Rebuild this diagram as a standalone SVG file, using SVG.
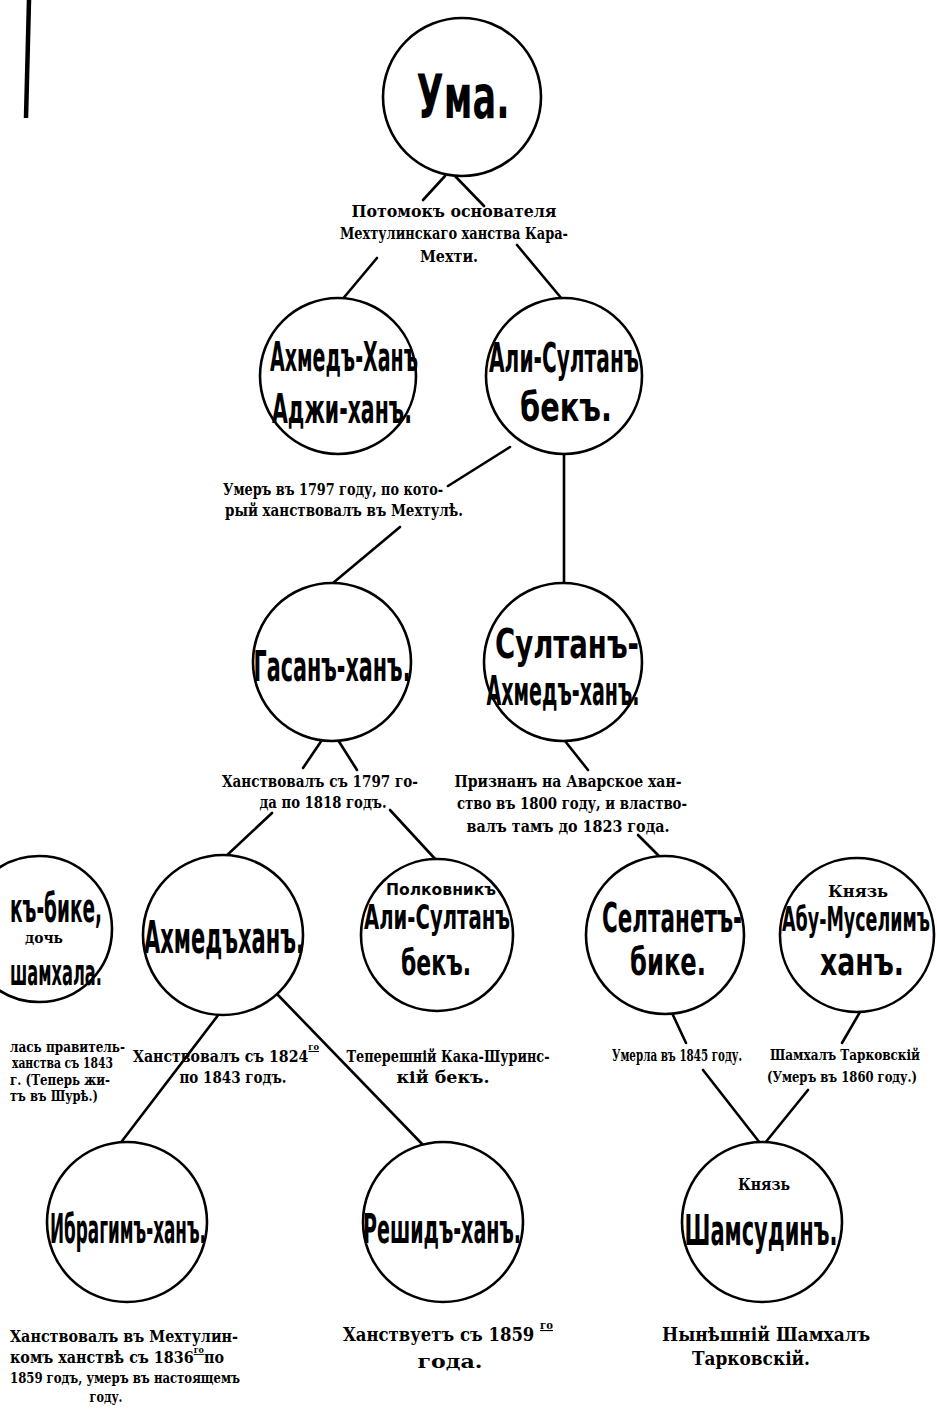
<svg xmlns="http://www.w3.org/2000/svg" width="937" height="1413" viewBox="0 0 937 1413">
<style>
circle{fill:#fff;stroke:#000;stroke-width:2.6}
.c line,line.c{stroke:#000;stroke-width:2.6;stroke-linecap:round}
text{fill:#000;font-family:"DejaVu Sans","Liberation Sans",sans-serif;font-weight:bold}
.b{text-anchor:middle}
.s{text-anchor:start}
.l{font-family:"DejaVu Serif","Liberation Serif",serif;font-weight:bold}
.u{text-decoration:underline}
</style>
<rect width="937" height="1413" fill="#fff"/>
<line x1="29" y1="0" x2="26" y2="118" stroke="#000" stroke-width="4.5"/>

<g id="connectors" class="c">
<line x1="445" y1="176" x2="423" y2="200"/>
<line x1="455" y1="176" x2="484" y2="206"/>
<line x1="377" y1="258" x2="341" y2="301"/>
<line x1="517" y1="245" x2="562" y2="299"/>
<line x1="510" y1="447" x2="448" y2="486"/>
<line x1="400" y1="527" x2="333" y2="583"/>
<line x1="564" y1="455" x2="564" y2="583"/>
<line x1="322" y1="740" x2="303" y2="768"/>
<line x1="338" y1="740" x2="357" y2="770"/>
<line x1="272" y1="813" x2="224" y2="858"/>
<line x1="390" y1="810" x2="437" y2="861"/>
<line x1="565" y1="741" x2="588" y2="770"/>
<line x1="638" y1="835" x2="662" y2="859"/>
<line x1="219" y1="1014" x2="119" y2="1145"/>
<line x1="277" y1="994" x2="425" y2="1147"/>
<line x1="672" y1="1013" x2="686" y2="1043"/>
<line x1="703" y1="1070" x2="760" y2="1143"/>
<line x1="860" y1="1012" x2="842" y2="1043"/>
<line x1="808" y1="1090" x2="765" y2="1143"/>
</g>

<g id="uma">
<circle cx="462" cy="97" r="79"/>
<text class="b" x="463" y="118" font-size="60" textLength="93" lengthAdjust="spacingAndGlyphs">Ума.</text>
</g>

<g id="lbl-uma">
<text class="l b" x="454" y="217" font-size="17" textLength="205" lengthAdjust="spacingAndGlyphs">Потомокъ основателя</text>
<text class="l b" x="454" y="239" font-size="17" textLength="228" lengthAdjust="spacingAndGlyphs">Мехтулинскаго ханства Кара-</text>
<text class="l b" x="449" y="262" font-size="17" textLength="58" lengthAdjust="spacingAndGlyphs">Мехти.</text>
</g>

<g id="ahmed-adji">
<circle cx="338" cy="376" r="78"/>
<text class="b" x="344" y="371" font-size="40" textLength="148" lengthAdjust="spacingAndGlyphs">Ахмедъ-Ханъ</text>
<text class="b" x="342" y="423" font-size="40" textLength="140" lengthAdjust="spacingAndGlyphs">Аджи-ханъ.</text>
</g>

<g id="ali-sultan-1">
<circle cx="564" cy="376" r="78"/>
<text class="b" x="564" y="372" font-size="40" textLength="150" lengthAdjust="spacingAndGlyphs">Али-Султанъ</text>
<text class="b" x="566" y="421" font-size="40" textLength="92" lengthAdjust="spacingAndGlyphs">бекъ.</text>
</g>

<g id="lbl-ali">
<text class="l b" x="333" y="495" font-size="17" textLength="220" lengthAdjust="spacingAndGlyphs">Умеръ въ 1797 году, по кото-</text>
<text class="l b" x="344" y="516" font-size="17" textLength="238" lengthAdjust="spacingAndGlyphs">рый ханствовалъ въ Мехтулѣ.</text>
</g>

<g id="gasan">
<circle cx="332" cy="662" r="79"/>
<text class="b" x="332" y="681" font-size="42" textLength="157" lengthAdjust="spacingAndGlyphs">Гасанъ-ханъ.</text>
</g>

<g id="sultan-ahmed">
<circle cx="563" cy="662" r="79"/>
<text class="b" x="567" y="658" font-size="40" textLength="144" lengthAdjust="spacingAndGlyphs">Султанъ-</text>
<text class="b" x="563" y="705" font-size="40" textLength="153" lengthAdjust="spacingAndGlyphs">Ахмедъ-ханъ.</text>
</g>

<g id="lbl-gasan">
<text class="l b" x="320" y="787" font-size="17" textLength="196" lengthAdjust="spacingAndGlyphs">Ханствовалъ съ 1797 го-</text>
<text class="l b" x="323" y="808" font-size="17" textLength="127" lengthAdjust="spacingAndGlyphs">да по 1818 годъ.</text>
</g>

<g id="lbl-sultan">
<text class="l b" x="568" y="787" font-size="17" textLength="227" lengthAdjust="spacingAndGlyphs">Признанъ на Аварское хан-</text>
<text class="l b" x="572" y="809" font-size="17" textLength="230" lengthAdjust="spacingAndGlyphs">ство въ 1800 году, и властво-</text>
<text class="l b" x="568" y="832" font-size="17" textLength="203" lengthAdjust="spacingAndGlyphs">валъ тамъ до 1823 года.</text>
</g>

<g id="bike-left">
<circle cx="39" cy="929" r="73"/>
<text class="s" x="10" y="922" font-size="40" textLength="92" lengthAdjust="spacingAndGlyphs">къ-бике,</text>
<text class="l b" x="44" y="943" font-size="15" textLength="38" lengthAdjust="spacingAndGlyphs">дочь</text>
<text class="s" x="10" y="985" font-size="36" textLength="92" lengthAdjust="spacingAndGlyphs">шамхала.</text>
</g>

<g id="lbl-bike-left">
<text class="l s" x="10" y="1052" font-size="14" textLength="115" lengthAdjust="spacingAndGlyphs">лась правитель-</text>
<text class="l s" x="12" y="1068" font-size="14" textLength="101" lengthAdjust="spacingAndGlyphs">ханства съ 1843</text>
<text class="l s" x="10" y="1085" font-size="14" textLength="100" lengthAdjust="spacingAndGlyphs">г. (Теперь жи-</text>
<text class="l s" x="10" y="1101" font-size="14" textLength="88" lengthAdjust="spacingAndGlyphs">тъ въ Шурѣ.)</text>
</g>

<g id="ahmed-khan">
<circle cx="223" cy="935" r="80"/>
<text class="b" x="224" y="953" font-size="44" textLength="160" lengthAdjust="spacingAndGlyphs">Ахмедъханъ.</text>
</g>

<g id="polkovnik-ali">
<circle cx="437" cy="935" r="76"/>
<text class="b" x="441" y="895" font-size="15" textLength="110" lengthAdjust="spacingAndGlyphs">Полковникъ</text>
<text class="b" x="437" y="929" font-size="34" textLength="146" lengthAdjust="spacingAndGlyphs">Али-Султанъ</text>
<text class="b" x="436" y="975" font-size="36" textLength="70" lengthAdjust="spacingAndGlyphs">бекъ.</text>
</g>

<g id="seltanet">
<circle cx="665" cy="935" r="79"/>
<text class="b" x="672" y="932" font-size="40" textLength="140" lengthAdjust="spacingAndGlyphs">Селтанетъ-</text>
<text class="b" x="668" y="975" font-size="38" textLength="76" lengthAdjust="spacingAndGlyphs">бике.</text>
</g>

<g id="abu-muselim">
<circle cx="857" cy="935" r="77"/>
<text class="l b" x="858" y="897" font-size="16" textLength="60" lengthAdjust="spacingAndGlyphs">Князь</text>
<text class="b" x="856" y="931" font-size="33" textLength="148" lengthAdjust="spacingAndGlyphs">Абу-Муселимъ</text>
<text class="b" x="862" y="975" font-size="38" textLength="84" lengthAdjust="spacingAndGlyphs">ханъ.</text>
</g>

<g id="lbl-ahmed-khan">
<text class="l s" x="133" y="1062" font-size="17" textLength="186" lengthAdjust="spacingAndGlyphs">Ханствовалъ съ 1824<tspan class="u" dy="-12" font-size="10">го</tspan></text>
<text class="l b" x="233" y="1083" font-size="17" textLength="107" lengthAdjust="spacingAndGlyphs">по 1843 годъ.</text>
</g>

<g id="lbl-polkovnik">
<text class="l b" x="448" y="1062" font-size="17" textLength="203" lengthAdjust="spacingAndGlyphs">Теперешній Кака-Шуринс-</text>
<text class="l b" x="443" y="1083" font-size="17" textLength="93" lengthAdjust="spacingAndGlyphs">кій бекъ.</text>
</g>

<g id="lbl-seltanet">
<text class="l s" x="612" y="1061" font-size="17" textLength="130" lengthAdjust="spacingAndGlyphs">Умерла въ 1845 году.</text>
</g>

<g id="lbl-abu">
<text class="l b" x="845" y="1060" font-size="15" textLength="150" lengthAdjust="spacingAndGlyphs">Шамхалъ Тарковскій</text>
<text class="l b" x="842" y="1082" font-size="15" textLength="150" lengthAdjust="spacingAndGlyphs">(Умеръ въ 1860 году.)</text>
</g>

<g id="ibragim">
<circle cx="127" cy="1222" r="80"/>
<text class="b" x="128" y="1243" font-size="40" textLength="156" lengthAdjust="spacingAndGlyphs">Ибрагимъ-ханъ.</text>
</g>

<g id="reshid">
<circle cx="443" cy="1222" r="80"/>
<text class="b" x="442" y="1243" font-size="40" textLength="158" lengthAdjust="spacingAndGlyphs">Решидъ-ханъ.</text>
</g>

<g id="shamsudin">
<circle cx="762" cy="1222" r="80"/>
<text class="l b" x="764" y="1190" font-size="16" textLength="52" lengthAdjust="spacingAndGlyphs">Князь</text>
<text class="b" x="761" y="1245" font-size="42" textLength="153" lengthAdjust="spacingAndGlyphs">Шамсудинъ.</text>
</g>

<g id="lbl-ibragim">
<text class="l s" x="10" y="1342" font-size="16" textLength="228" lengthAdjust="spacingAndGlyphs">Ханствовалъ въ Мехтулин-</text>
<text class="l s" x="10" y="1363" font-size="16" textLength="214" lengthAdjust="spacingAndGlyphs">комъ ханствѣ съ 1836<tspan class="u" dy="-10" font-size="9">го</tspan><tspan dy="10">по</tspan></text>
<text class="l s" x="10" y="1383" font-size="15" textLength="230" lengthAdjust="spacingAndGlyphs">1859 годъ, умеръ въ настоящемъ</text>
<text class="l b" x="106" y="1402" font-size="15" textLength="33" lengthAdjust="spacingAndGlyphs">году.</text>
</g>

<g id="lbl-reshid">
<text class="l s" x="343" y="1341" font-size="18" textLength="210" lengthAdjust="spacingAndGlyphs">Ханствуетъ съ 1859 <tspan class="u" dy="-12" font-size="11">го</tspan></text>
<text class="l b" x="450" y="1368" font-size="18" textLength="65" lengthAdjust="spacingAndGlyphs">года.</text>
</g>

<g id="lbl-shamsudin">
<text class="l b" x="766" y="1341" font-size="18" textLength="208" lengthAdjust="spacingAndGlyphs">Нынѣшній Шамхалъ</text>
<text class="l b" x="751" y="1365" font-size="18" textLength="118" lengthAdjust="spacingAndGlyphs">Тарковскій.</text>
</g>
</svg>
